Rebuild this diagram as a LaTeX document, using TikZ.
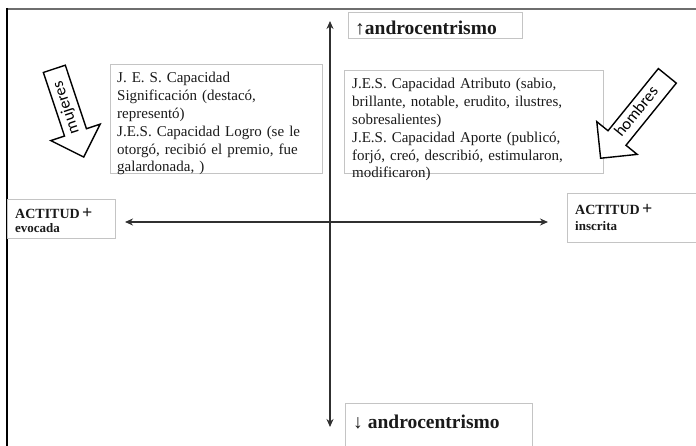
\documentclass[tikz,border=0pt]{standalone}
\usepackage{fontspec}
\setmainfont{Liberation Serif}
\newfontfamily\calib{Carlito}
\usetikzlibrary{shapes.arrows,arrows.meta}
\definecolor{boxgray}{HTML}{C4C4C4}
\definecolor{axisgray}{HTML}{303030}
\definecolor{framegray}{HTML}{6E6E6E}
\definecolor{txt}{HTML}{1A1A1A}
\tikzset{
  panel/.style={draw=boxgray, line width=0.9pt, rectangle, anchor=north west, inner sep=0pt},
  bodytext/.style={anchor=base west, inner sep=0pt, text=txt, align=left,
    font=\fontsize{15}{17.8}\selectfont},
  bigtext/.style={anchor=base west, inner sep=0pt, text=txt,
    font=\fontsize{19.5}{21}\selectfont\bfseries},
  acttext/.style={anchor=base west, inner sep=0pt, text=txt,
    font=\fontsize{14}{16}\selectfont\bfseries},
  subtext/.style={anchor=base west, inner sep=0pt, text=txt,
    font=\fontsize{13}{15}\selectfont\bfseries},
  axis/.style={draw=axisgray, line width=1.4pt, {Stealth[length=8pt,width=7pt]}-{Stealth[length=8pt,width=7pt]}},
  blockarrow/.style={single arrow, draw=black, line width=1.4pt, fill=white,
    shape border rotate=180, single arrow head extend=14pt, minimum width=52pt,
    text height=10pt, text depth=3pt, inner ysep=4pt, inner xsep=3pt,
    font=\calib\fontsize{16.5}{17}\selectfont, anchor=tip}
}
\begin{document}
\begin{tikzpicture}[x=1pt,y=-1pt]
\useasboundingbox (0,0) rectangle (696,446);
\fill[white] (0,0) rectangle (696,446);
% frame
\draw[framegray, line width=2.2pt] (6,9) -- (700,9);
\draw[black, line width=1.6pt] (7,8) -- (7,450);

% panels
\node[panel, minimum width=212pt, minimum height=109pt] (lbox) at (110,64) {};
\node[panel, minimum width=259pt, minimum height=103pt] (rbox) at (344,70) {};
\node[panel, minimum width=174pt, minimum height=26pt] (tbox) at (348,12) {};
\node[panel, minimum width=187pt, minimum height=60pt] (bbox) at (345,403) {};
\node[panel, minimum width=108pt, minimum height=39pt] (ebox) at (7,199) {};
\node[panel, minimum width=140pt, minimum height=49pt] (ibox) at (567,193) {};

% axes
\coordinate (vtop) at (330,21);
\coordinate (vbot) at (330,427);
\coordinate (hleft) at (125,222);
\coordinate (hright) at (548,222);
\draw[axis] (vtop) -- (vbot);
\draw[axis] (hleft) -- (hright);

% texts
\node[bodytext, text width=190pt] (ltext) at (117,83) {J. E. S. Capacidad\\
Significación (destacó,\\
representó)\\
\makebox[190pt][s]{J.E.S. Capacidad Logro (se le}\\
\makebox[190pt][s]{otorgó, recibió el premio, fue}\\
galardonada, )};
\node[bodytext, text width=218pt] (rtext) at (352,89) {\makebox[218pt][s]{J.E.S. Capacidad Atributo (sabio,}\\
\makebox[218pt][s]{brillante, notable, erudito, ilustres,}\\
sobresalientes)\\
\makebox[218pt][s]{J.E.S. Capacidad Aporte (publicó,}\\
\makebox[218pt][s]{forjó, creó, describió, estimularon,}\\
modificaron)};
\node[bigtext] (ttext) at (355,35) {{\mdseries ↑}androcentrismo};
\node[bigtext] (btext) at (353,428) {{\mdseries ↓} androcentrismo};
\node[acttext] (eact) at (15,219) {ACTITUD\,{\fontsize{18}{18}\selectfont\raisebox{0.8pt}{+}}};
\node[subtext] (eev) at (15,233) {evocada};
\node[acttext] (iact) at (575,215) {ACTITUD\,{\fontsize{18}{18}\selectfont\raisebox{0.8pt}{+}}};
\node[subtext] (iins) at (575,231) {inscrita};

% block arrows
\node[blockarrow, rotate=108.4, minimum height=93pt] (muj) at (84,158) {mujeres};
\node[blockarrow, rotate=51, minimum height=106pt] (hom) at (600,159) {hombres};
\end{tikzpicture}
\end{document}
